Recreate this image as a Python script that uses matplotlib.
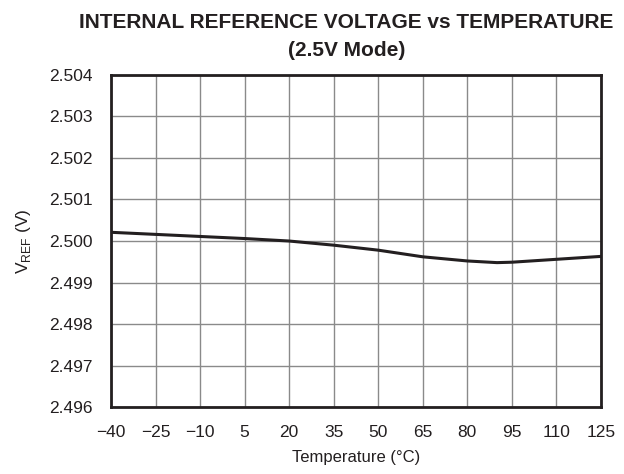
import matplotlib
matplotlib.use("Agg")
import matplotlib.pyplot as plt

plt.rcParams['font.family'] = ['Liberation Sans', 'DejaVu Sans']

# curve
temp = [-40, -25, -10, 5, 20, 35, 50, 65, 80, 90, 95, 110, 125]
vref = [2.50021, 2.50016, 2.50011, 2.50006, 2.50000, 2.49990, 2.49978,
        2.49962, 2.49952, 2.49948, 2.49949, 2.49956, 2.49963]

x_ticks = [-40, -25, -10, 5, 20, 35, 50, 65, 80, 95, 110, 125]
y_ticks = [2.496, 2.497, 2.498, 2.499, 2.500, 2.501, 2.502, 2.503, 2.504]

fig = plt.figure(figsize=(6.24, 4.74), dpi=100)
ax = fig.add_axes([0.178, 0.141, 0.785, 0.701])

ax.plot(temp, vref, color='#231f20', lw=2.2, zorder=3)

ax.set_xlim(-40, 125)
ax.set_ylim(2.496, 2.504)
ax.set_xticks(x_ticks)
ax.set_xticklabels([str(t).replace('-', '\u2212') for t in x_ticks])
ax.set_yticks(y_ticks)
ax.set_yticklabels(['%.3f' % v for v in y_ticks])
ax.tick_params(length=0, labelsize=12.5, colors='#231f20')
ax.tick_params(axis='y', pad=13)
ax.tick_params(axis='x', pad=13)
ax.grid(True, color='#8a8a8a', lw=1.0)
for s in ax.spines.values():
    s.set_linewidth(2)
    s.set_color('#231f20')

ax.set_xlabel('Temperature (°C)', fontsize=12, labelpad=7, color='#231f20')
ax.set_ylabel('V$_\\mathregular{REF}$ (V)', fontsize=12.5, labelpad=12, color='#231f20')
fig.text(0.555, 0.972, 'INTERNAL REFERENCE VOLTAGE vs TEMPERATURE\n(2.5V Mode)',
         ha='center', va='top', fontsize=15, fontweight='bold',
         color='#231f20', linespacing=1.55)

fig.savefig('out.png', dpi=100)
